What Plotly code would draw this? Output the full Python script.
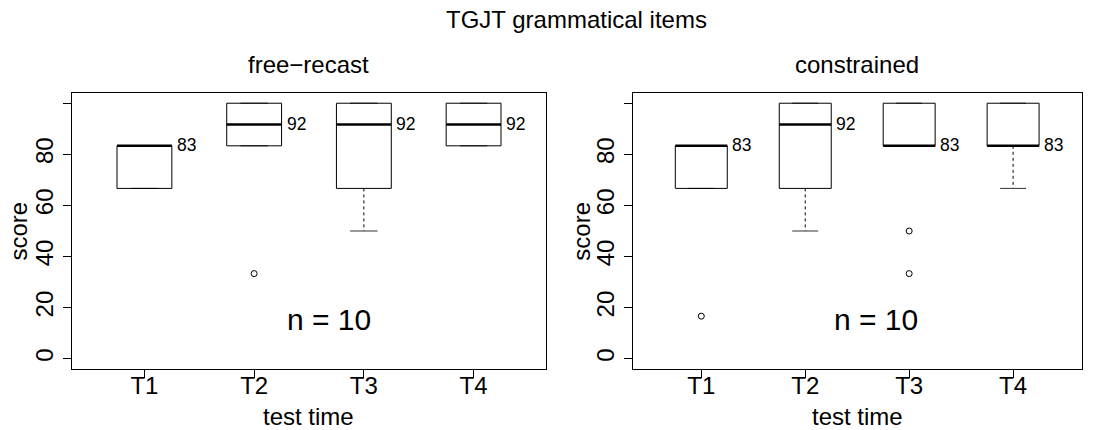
import plotly.graph_objects as go

# ---------------- data ----------------
categories = ["T1", "T2", "T3", "T4"]
panel_titles = ["free−recast", "constrained"]
main_title = "TGJT grammatical items"
n_participants = 10

free_q1 = [66.67, 83.33, 66.67, 83.33]
free_median = [83.33, 91.67, 91.67, 91.67]
free_q3 = [83.33, 100.0, 100.0, 100.0]
free_lower = [66.67, 83.33, 50.0, 83.33]
free_upper = [83.33, 100.0, 100.0, 100.0]
free_outliers = [[], [33.33], [], []]

cons_q1 = [66.67, 66.67, 83.33, 83.33]
cons_median = [83.33, 91.67, 83.33, 83.33]
cons_q3 = [83.33, 100.0, 100.0, 100.0]
cons_lower = [66.67, 50.0, 83.33, 66.67]
cons_upper = [83.33, 100.0, 100.0, 100.0]
cons_outliers = [[16.67], [], [50.0, 33.33], []]

y_tick_vals = [0, 20, 40, 60, 80, 100]
y_tick_text = ["0", "20", "40", "60", "80", ""]

# ---------------- styling ----------------
FONT = "Liberation Sans, Arial, sans-serif"
W, H = 1111, 430
BOX_HALF = 0.25
CAP_HALF = 0.125

panels = [
    dict(q1=free_q1, med=free_median, q3=free_q3, lo=free_lower, hi=free_upper,
         out=free_outliers, xd=[72 / W, 546 / W]),
    dict(q1=cons_q1, med=cons_median, q3=cons_q3, lo=cons_lower, hi=cons_upper,
         out=cons_outliers, xd=[632.7 / W, 1081.7 / W]),
]
ydom = [1 - 369 / H, 1 - 93 / H]

fig = go.Figure()
annotations = []

for p_i, p in enumerate(panels):
    xa = "x" if p_i == 0 else "x2"
    ya = "y" if p_i == 0 else "y2"
    bx, by, mx, my, wx, wy, cx, cy, ox, oy = [], [], [], [], [], [], [], [], [], []
    for i, cat in enumerate(categories):
        x = i + 1
        q1, med, q3, lo, hi = p["q1"][i], p["med"][i], p["q3"][i], p["lo"][i], p["hi"][i]
        bx += [x - BOX_HALF, x + BOX_HALF, x + BOX_HALF, x - BOX_HALF, x - BOX_HALF, None]
        by += [q1, q1, q3, q3, q1, None]
        mx += [x - BOX_HALF, x + BOX_HALF, None]
        my += [med, med, None]
        if lo < q1:
            wx += [x, x, None]
            wy += [q1, lo, None]
        if hi > q3:
            wx += [x, x, None]
            wy += [q3, hi, None]
        cx += [x - CAP_HALF, x + CAP_HALF, None, x - CAP_HALF, x + CAP_HALF, None]
        cy += [lo, lo, None, hi, hi, None]
        for o in p["out"][i]:
            ox.append(x)
            oy.append(o)
        annotations.append(dict(text=str(int(round(med))), x=x + BOX_HALF, y=med,
                                xref=xa, yref=ya, showarrow=False,
                                xanchor="left", yanchor="middle", xshift=3, yshift=1,
                                font=dict(family=FONT, size=17.5, color="black")))

    fig.add_trace(go.Scatter(x=cx, y=cy, mode="lines", line=dict(color="#333333", width=1),
                             xaxis=xa, yaxis=ya, hoverinfo="skip"))
    fig.add_trace(go.Scatter(x=wx, y=wy, mode="lines",
                             line=dict(color="black", width=1, dash="3px,3px"),
                             xaxis=xa, yaxis=ya, hoverinfo="skip"))
    fig.add_trace(go.Scatter(x=bx, y=by, mode="lines", line=dict(color="black", width=1),
                             xaxis=xa, yaxis=ya, hoverinfo="skip"))
    fig.add_trace(go.Scatter(x=mx, y=my, mode="lines", line=dict(color="black", width=2.5),
                             xaxis=xa, yaxis=ya, hoverinfo="skip"))
    fig.add_trace(go.Scatter(x=ox, y=oy, mode="markers",
                             marker=dict(symbol="circle-open", size=6, color="black",
                                         line=dict(width=1, color="black")),
                             xaxis=xa, yaxis=ya, hoverinfo="skip"))

axis_common = dict(showline=True, mirror=True, linecolor="black", linewidth=1,
                   ticks="outside", ticklen=8, tickcolor="black", tickwidth=1,
                   showgrid=False, zeroline=False,
                   tickfont=dict(family=FONT, size=24, color="black"))

for p_i, p in enumerate(panels):
    sfx = "" if p_i == 0 else "2"
    fig.update_layout(**{
        "xaxis" + sfx: dict(axis_common, domain=p["xd"], range=[0.34, 4.66],
                            tickvals=list(range(1, len(categories) + 1)), ticktext=categories,
                            anchor="y" + sfx, ticklabelstandoff=-13),
        "yaxis" + sfx: dict(axis_common, domain=ydom, range=[-4, 104],
                            tickvals=y_tick_vals, ticktext=y_tick_text, tickangle=-90,
                            anchor="x" + sfx),
    })

annotations.append(
    dict(text=main_title, x=576 / W, y=1 - 19.5 / H, xref="paper", yref="paper",
         showarrow=False, xanchor="center", yanchor="middle",
         font=dict(family=FONT, size=24, color="black")))
title_x = [308.7 / W, 857.2 / W]
score_x = [17.5 / W, 580.7 / W]
for p_i in range(2):
    sfx = "" if p_i == 0 else "2"
    annotations += [
        dict(text=panel_titles[p_i], x=title_x[p_i], y=1 - 64.7 / H, xref="paper", yref="paper",
             showarrow=False, xanchor="center", yanchor="middle",
             font=dict(family=FONT, size=24, color="black")),
        dict(text="score", x=score_x[p_i], y=1 - 231 / H, xref="paper", yref="paper",
             showarrow=False, xanchor="center", yanchor="middle", textangle=-90,
             font=dict(family=FONT, size=24, color="black")),
        dict(text="test time", x=title_x[p_i], y=1 - 416.4 / H, xref="paper", yref="paper",
             showarrow=False, xanchor="center", yanchor="middle",
             font=dict(family=FONT, size=24, color="black")),
        dict(text=f"n = {n_participants}", x=2.684, y=15.3, xref="x" + sfx, yref="y" + sfx,
             showarrow=False, xanchor="center", yanchor="middle",
             font=dict(family=FONT, size=30, color="black")),
    ]

fig.update_layout(width=W, height=H, margin=dict(l=0, r=0, t=0, b=0),
                  paper_bgcolor="white", plot_bgcolor="white", showlegend=False,
                  annotations=annotations)

fig.write_html("out.html")
